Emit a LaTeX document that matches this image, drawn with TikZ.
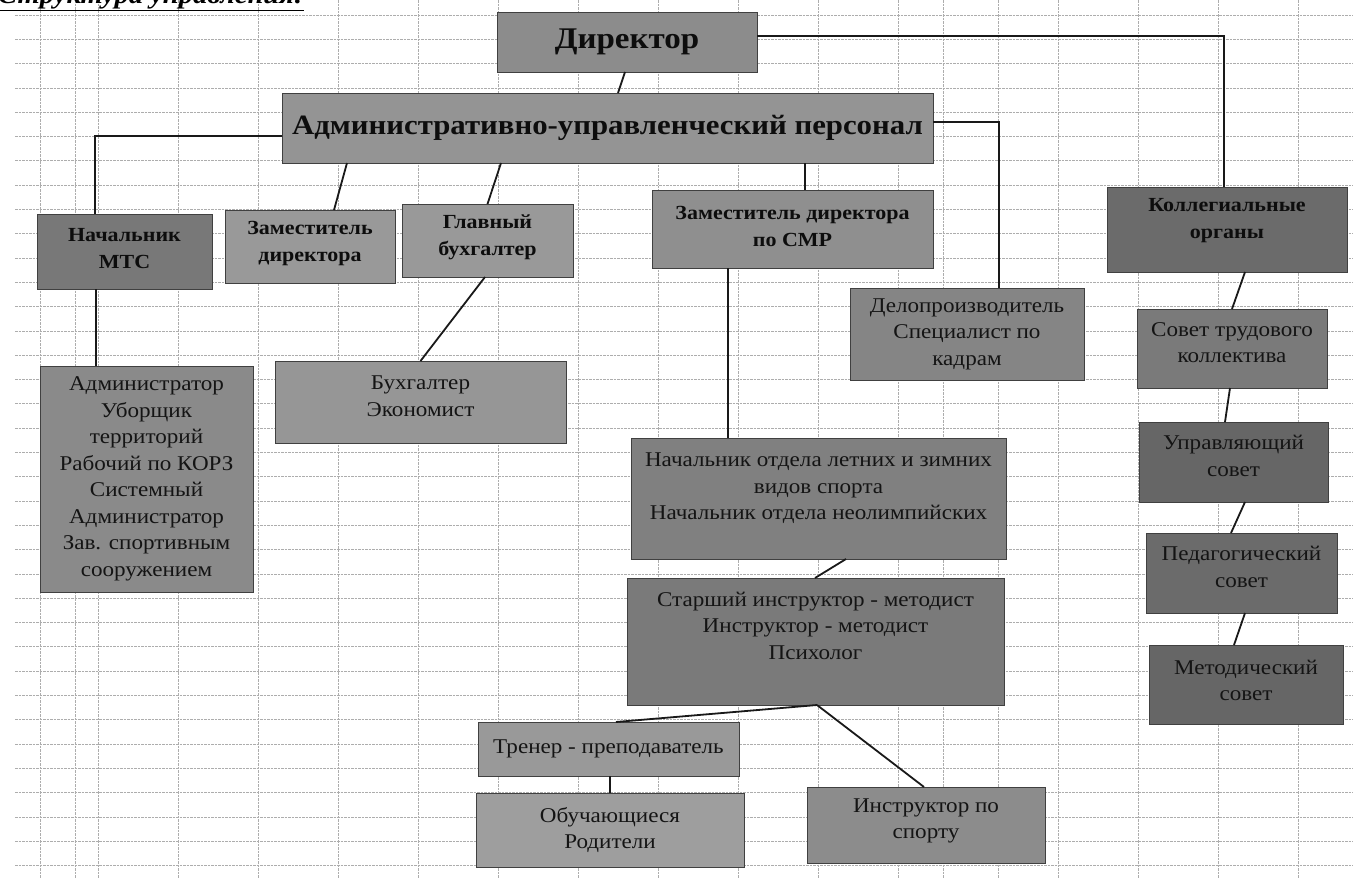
\documentclass[tikz,border=0pt]{standalone}
\usepackage{fontspec}
\setmainfont{Liberation Serif}[FakeStretch=1.1]
\definecolor{cdir}{gray}{0.55}
\definecolor{caup}{gray}{0.58}
\definecolor{cmts}{gray}{0.47}
\definecolor{czam}{gray}{0.60}
\definecolor{cglb}{gray}{0.60}
\definecolor{csmr}{gray}{0.56}
\definecolor{ckol}{gray}{0.42}
\definecolor{cdel}{gray}{0.52}
\definecolor{cstk}{gray}{0.48}
\definecolor{cadm}{gray}{0.54}
\definecolor{cbux}{gray}{0.59}
\definecolor{cnach}{gray}{0.50}
\definecolor{cstar}{gray}{0.48}
\definecolor{ctren}{gray}{0.60}
\definecolor{cobuch}{gray}{0.62}
\definecolor{cinstr}{gray}{0.55}
\definecolor{cupr}{gray}{0.40}
\definecolor{cped}{gray}{0.42}
\definecolor{cmet}{gray}{0.40}
\definecolor{gridc}{gray}{0.68}
\begin{document}
\begin{tikzpicture}[x=1pt,y=-1pt,
  gridline/.style={draw=gridc, line width=0.7pt, dash pattern=on 2.5pt off 1pt},
  box/.style={draw=black!75, line width=0.8pt, inner sep=0pt, outer sep=0pt},
  txt/.style={align=center, inner sep=0pt, text=black!92, font=\fontsize{21}{26.5}\selectfont},
  btxt/.style={align=center, inner sep=0pt, text=black!95, font=\bfseries\fontsize{20}{27}\selectfont},
  conn/.style={draw=black!90, line width=1.8pt},
  thickconn/.style={draw=black!90, line width=2.6pt}]
\useasboundingbox (0,0) rectangle (1353,878);
\clip (0,0) rectangle (1353,878);
\fill[white] (0,0) rectangle (1353,878);
% grid
\foreach \k in {0,...,35} \draw[gridline] (15,{15+24.3*\k}) -- (1353,{15+24.3*\k});
\foreach \xx in {40,75,98,178,258,338,418,498,578,658,738,818,898,943,998,1058,1138,1218,1298}
  \draw[gridline] (\xx,0) -- (\xx,878);
% title
\node[anchor=base west, inner sep=0pt] (title) at (-2,3)
  {\bfseries\itshape\fontsize{26}{30}\selectfont\underline{Структура управления:}};
% boxes
\node[box, fill=cdir,  minimum width=260pt, minimum height=60pt]  (dir)   at (627,42) {};
\node[box, fill=caup,  minimum width=651pt, minimum height=70pt]  (aup)   at (607.5,128) {};
\node[box, fill=cmts,  minimum width=175pt, minimum height=75pt]  (mts)   at (124.5,251.5) {};
\node[box, fill=czam,  minimum width=170pt, minimum height=73pt]  (zam)   at (310,246.5) {};
\node[box, fill=cglb,  minimum width=171pt, minimum height=73pt]  (glb)   at (487.5,240.5) {};
\node[box, fill=csmr,  minimum width=281pt, minimum height=78pt]  (smr)   at (792.5,229) {};
\node[box, fill=ckol,  minimum width=240pt, minimum height=85pt]  (kol)   at (1227,229.5) {};
\node[box, fill=cdel,  minimum width=234pt, minimum height=92pt]  (del)   at (967,334) {};
\node[box, fill=cstk,  minimum width=190pt, minimum height=79pt]  (stk)   at (1232,348.5) {};
\node[box, fill=cadm,  minimum width=213pt, minimum height=226pt] (adm)   at (146.5,479) {};
\node[box, fill=cbux,  minimum width=291pt, minimum height=82pt]  (bux)   at (420.5,402) {};
\node[box, fill=cnach, minimum width=375pt, minimum height=121pt] (nach)  at (818.5,498.5) {};
\node[box, fill=cstar, minimum width=377pt, minimum height=127pt] (star)  at (815.5,641.5) {};
\node[box, fill=ctren, minimum width=261pt, minimum height=54pt]  (tren)  at (608.5,749) {};
\node[box, fill=cobuch,minimum width=268pt, minimum height=74pt]  (obuch) at (610,830) {};
\node[box, fill=cinstr,minimum width=238pt, minimum height=76pt]  (instr) at (926,825) {};
\node[box, fill=cupr,  minimum width=189pt, minimum height=80pt]  (upr)   at (1233.5,462) {};
\node[box, fill=cped,  minimum width=191pt, minimum height=80pt]  (ped)   at (1241.5,573) {};
\node[box, fill=cmet,  minimum width=194pt, minimum height=79pt]  (met)   at (1246,684.5) {};
% texts
\node[btxt, font=\bfseries\fontsize{30}{34}\selectfont] (dirT) at (dir.center) {Директор};
\node[btxt, font=\bfseries\fontsize{28}{32}\selectfont] (aupT) at (aup.center) {Административно-управленческий персонал};
\node[btxt] (mtsT) at ([yshift=3pt]mts.center) {Начальник\\МТС};
\node[btxt] (zamT) at ([yshift=3pt]zam.center) {Заместитель\\директора};
\node[btxt] (glbT) at ([yshift=3pt]glb.center) {Главный\\бухгалтер};
\node[btxt] (smrT) at ([yshift=3pt]smr.center) {Заместитель директора\\по СМР};
\node[btxt] (kolT) at ([yshift=9pt]kol.center) {Коллегиальные\\органы};
\node[txt] (delT) at (del.center) {Делопроизводитель\\Специалист по\\кадрам};
\node[txt] (stkT) at ([yshift=6pt]stk.center) {Совет трудового\\коллектива};
\node[txt] (admT) at (adm.center) {Администратор\\Уборщик\\территорий\\Рабочий по КОРЗ\\Системный\\Администратор\\Зав. спортивным\\сооружением};
\node[txt] (buxT) at ([yshift=6pt]bux.center) {Бухгалтер\\Экономист};
\node[txt] (nachT) at ([yshift=10pt]nach.center) {Начальник отдела летних и зимних\\видов спорта\\Начальник отдела неолимпийских};
\node[txt] (starT) at ([yshift=16pt]star.center) {Старший инструктор - методист\\Инструктор - методист\\Психолог};
\node[txt] (trenT) at (tren.center) {Тренер - преподаватель};
\node[txt] (obuchT) at (obuch.center) {Обучающиеся\\Родители};
\node[txt] (instrT) at ([yshift=4pt]instr.center) {Инструктор по\\спорту};
\node[txt] (uprT) at ([yshift=6pt]upr.center) {Управляющий\\совет};
\node[txt] (pedT) at ([yshift=6pt]ped.center) {Педагогический\\совет};
\node[txt] (metT) at ([yshift=4pt]met.center) {Методический\\совет};
% connectors
\draw[conn] ([xshift=-2pt]dir.south) -- ([xshift=10.5pt]aup.north);
\draw[thickconn] ([yshift=6pt]dir.east) -| ([xshift=-3pt]kol.north);
\draw[conn] ([yshift=-8pt]aup.west) -| ([xshift=-29.5pt]mts.north);
\draw[conn] ([xshift=-260.5pt]aup.south) -- ([xshift=24pt]zam.north);
\draw[conn] ([xshift=-106.5pt]aup.south) -- (glb.north);
\draw[conn] ([xshift=197.5pt]aup.south) -- ([xshift=12.5pt]smr.north);
\draw[thickconn] ([yshift=6pt]aup.east) -| ([xshift=32pt]del.north);
\draw[conn] ([xshift=-64.5pt]smr.south) -- ([xshift=-90.5pt]nach.north);
\draw[conn] ([xshift=-28.5pt]mts.south) -- ([xshift=-50.5pt]adm.north);
\draw[conn] ([xshift=-2.5pt]glb.south) -- (bux.north);
\draw[conn] ([xshift=18pt]kol.south) -- (stk.north);
\draw[conn] ([xshift=-2pt]stk.south) -- ([xshift=-8.5pt]upr.north);
\draw[conn] ([xshift=11.5pt]upr.south) -- ([xshift=-10.5pt]ped.north);
\draw[conn] ([xshift=3.5pt]ped.south) -- ([xshift=-12pt]met.north);
\draw[conn] ([xshift=27.5pt]nach.south) -- ([xshift=-0.5pt]star.north);
\draw[conn] ([xshift=1.5pt]star.south) -- ([xshift=7.5pt]tren.north);
\draw[conn] ([xshift=1.5pt]star.south) -- ([xshift=-2pt]instr.north);
\draw[conn] ([xshift=1.5pt]tren.south) -- (obuch.north);
\end{tikzpicture}
\end{document}
